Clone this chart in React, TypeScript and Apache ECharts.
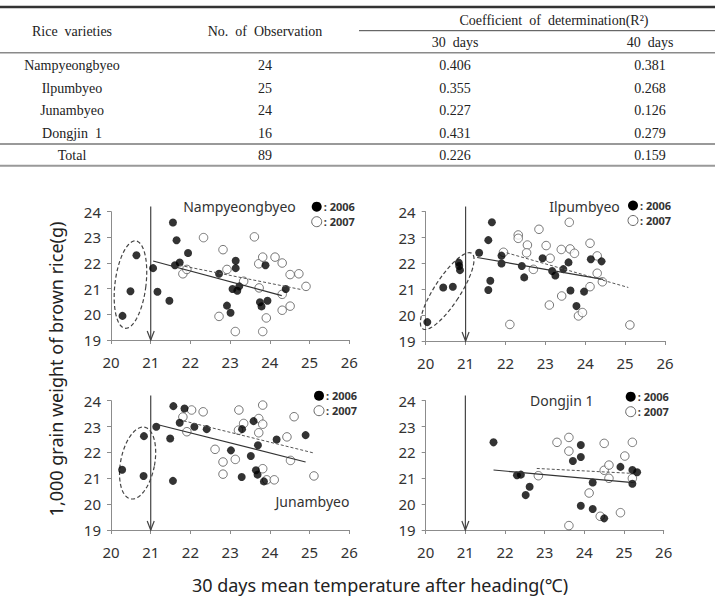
import React, { useEffect, useRef } from "react";
import * as echarts from "echarts";

// ---------- table ----------
const varieties = ["Nampyeongbyeo", "Ilpumbyeo", "Junambyeo", "Dongjin 1"];
const observations = ["24", "25", "24", "16"];
const r2Days30 = ["0.406", "0.355", "0.227", "0.431"];
const r2Days40 = ["0.381", "0.268", "0.126", "0.279"];
const totalRow = ["Total", "89", "0.226", "0.159"];

// ---------- axes ----------
const xTicks = [20, 21, 22, 23, 24, 25, 26];
const yTicks = [19, 20, 21, 22, 23, 24];
const thresholdTemp = 21;
const arrowTop = 24.2;
const years = ["2006", "2007"];

// ---------- Nampyeongbyeo ----------
const nampyeong2006: number[][] = [
  [20.29, 19.94], [20.49, 20.9], [20.64, 22.3], [21.06, 21.8], [21.17, 20.88], [21.47, 20.53],
  [21.56, 23.58], [21.65, 22.89], [21.61, 21.91], [21.73, 22.02], [21.94, 22.39], [22.72, 21.58],
  [22.92, 20.34], [23.01, 20.06], [23.14, 22.09], [23.14, 21.8], [23.06, 20.99], [23.18, 20.92],
  [23.23, 21.09], [23.75, 20.47], [23.79, 20.31], [23.94, 20.53], [23.89, 21.91], [24.4, 20.99],
];
const nampyeong2007: number[][] = [
  [21.81, 21.58], [21.91, 21.75], [22.33, 22.99], [22.72, 19.92], [22.82, 22.52], [22.92, 21.75],
  [23.13, 19.33], [23.34, 21.29], [23.61, 23.02], [23.72, 21.97], [23.73, 21.03], [23.82, 22.23],
  [23.82, 19.33], [23.91, 19.86], [24.13, 22.23], [24.31, 22.0], [24.31, 20.78], [24.31, 20.16],
  [24.51, 21.55], [24.51, 20.32], [24.73, 21.58], [24.91, 21.09],
];
const nampyeongFit2006 = [[21.06, 22.08], [24.3, 20.73]];
const nampyeongFit2007 = [[21.73, 21.91], [24.81, 20.96]];

// ---------- Ilpumbyeo ----------
const ilpum2006: number[][] = [
  [20.04, 19.73], [20.44, 21.07], [20.68, 21.1], [20.83, 22.03], [20.84, 21.9], [20.86, 21.74],
  [21.34, 22.41], [21.57, 20.97], [21.62, 21.33], [21.57, 22.9], [21.66, 23.59], [21.9, 22.3],
  [21.9, 22.0], [22.41, 21.9], [22.47, 21.46], [22.93, 22.2], [23.17, 21.71], [23.25, 21.53],
  [23.45, 21.78], [23.58, 22.04], [23.63, 20.95], [23.78, 20.35], [23.97, 20.91], [24.14, 22.16],
  [24.41, 22.08],
];
const ilpum2007: number[][] = [
  [22.11, 19.64], [21.95, 22.43], [22.32, 23.1], [22.32, 22.97], [22.55, 22.71], [22.53, 22.41],
  [22.7, 21.77], [22.84, 23.32], [23.02, 22.69], [23.12, 22.2], [23.1, 20.39], [23.4, 22.54],
  [23.41, 20.74], [23.6, 23.59], [23.62, 22.56], [23.73, 22.39], [23.83, 19.97], [23.93, 20.1],
  [24.12, 22.78], [24.12, 21.1], [24.3, 22.29], [24.3, 21.62], [24.43, 21.29], [25.12, 19.62],
];
const ilpumFit2006 = [[21.29, 22.23], [24.45, 21.38]];
const ilpumFit2007 = [[22.03, 22.41], [25.08, 21.07]];

// ---------- Junambyeo ----------
const junam2006: number[][] = [
  [20.28, 21.33], [20.83, 22.63], [20.82, 21.09], [21.14, 22.99], [21.49, 22.54], [21.57, 23.79],
  [21.56, 20.9], [21.73, 23.15], [21.85, 23.7], [22.1, 22.99], [22.41, 22.9], [23.02, 22.08],
  [23.3, 22.9], [23.29, 21.05], [23.52, 21.86], [23.59, 23.21], [23.65, 21.31], [23.69, 21.14],
  [23.7, 22.28], [23.85, 20.88], [24.17, 22.5], [24.9, 22.67],
];
const junam2007: number[][] = [
  [21.81, 23.37], [21.91, 22.8], [22.03, 23.64], [22.32, 23.57], [22.62, 22.12], [22.82, 21.63],
  [22.82, 21.16], [23.13, 21.73], [23.22, 23.64], [23.34, 23.12], [23.21, 22.86], [23.72, 23.31],
  [23.72, 22.76], [23.82, 23.83], [23.82, 23.09], [23.82, 21.37], [23.92, 20.94], [24.11, 20.94],
  [24.43, 22.6], [24.52, 21.69], [24.61, 23.38], [25.11, 21.09],
];
const junamFit2006 = [[21.16, 23.08], [24.9, 21.63]];
const junamFit2007 = [[21.83, 23.22], [25.1, 21.98]];

// ---------- Dongjin 1 ----------
const dongjin2006: number[][] = [
  [21.71, 22.39], [22.3, 21.12], [22.4, 21.14], [22.52, 20.35], [22.62, 20.67], [23.71, 21.67],
  [23.91, 22.29], [23.91, 21.82], [23.91, 19.94], [24.21, 20.84], [24.21, 19.81], [24.5, 19.45],
  [24.91, 21.44], [25.21, 21.32], [25.33, 21.23], [25.21, 20.79],
];
const dongjin2007: number[][] = [
  [22.84, 21.1], [23.31, 22.39], [23.61, 22.58], [23.61, 22.05], [23.61, 19.17], [24.12, 20.43],
  [24.4, 19.53], [24.5, 22.35], [24.5, 21.31], [24.62, 21.51], [24.62, 21.0], [24.91, 19.67],
  [25.02, 21.86], [25.21, 22.39], [25.21, 21.0],
];
const dongjinFit2006 = [[21.71, 21.32], [25.16, 20.84]];
const dongjinFit2007 = [[22.8, 21.38], [25.2, 21.19]];

// Low-temperature cluster circled in three panels: centre in data units
const lowTempCenters: (number[] | null)[] = [[20.49, 21.16], [20.54, 20.93], [20.67, 21.59], null];

const SANS = "'Noto Sans', 'Noto Sans CJK KR', sans-serif";
const SERIF = "'Liberation Serif', 'DejaVu Serif', serif";

type Panel = {
  name: string;
  d2006: number[][];
  d2007: number[][];
  fit2006: number[][];
  fit2007: number[][];
  grid: { left: number; top: number; width: number; height: number };
  title: [number, number];
  legend: [number, number];
  ellipse: { rx: number; ry: number; rot: number } | null;
};

const panels: Panel[] = [
  {
    name: varieties[0], d2006: nampyeong2006, d2007: nampyeong2007,
    fit2006: nampyeongFit2006, fit2007: nampyeongFit2007,
    grid: { left: 111, top: 211.7, width: 238.3, height: 128.3 },
    title: [239.5, 206.7], legend: [316.7, 206.7],
    ellipse: { rx: 15.5, ry: 44, rot: 7 },
  },
  {
    name: varieties[1], d2006: ilpum2006, d2007: ilpum2007,
    fit2006: ilpumFit2006, fit2007: ilpumFit2007,
    grid: { left: 425.7, top: 211.7, width: 239.3, height: 129.3 },
    title: [584.5, 206.7], legend: [633, 205.5],
    ellipse: { rx: 13, ry: 45, rot: 33 },
  },
  {
    name: varieties[2], d2006: junam2006, d2007: junam2007,
    fit2006: junamFit2006, fit2007: junamFit2007,
    grid: { left: 111, top: 400.7, width: 238.3, height: 129.3 },
    title: [312.5, 501], legend: [319, 395.7],
    ellipse: { rx: 17, ry: 36.5, rot: 11 },
  },
  {
    name: varieties[3], d2006: dongjin2006, d2007: dongjin2007,
    fit2006: dongjinFit2006, fit2007: dongjinFit2007,
    grid: { left: 425.7, top: 400.7, width: 238, height: 129.3 },
    title: [561.7, 400.7], legend: [630.7, 396.7],
    ellipse: null,
  },
];

function ellipsePoints(cx: number, cy: number, rx: number, ry: number, rotDeg: number) {
  const a = (rotDeg * Math.PI) / 180;
  const pts: number[][] = [];
  const n = 90;
  for (let i = 0; i <= n; i++) {
    const t = (i / n) * Math.PI * 2;
    const ex = rx * Math.cos(t);
    const ey = ry * Math.sin(t);
    pts.push([cx + ex * Math.cos(a) - ey * Math.sin(a), cy + ex * Math.sin(a) + ey * Math.cos(a)]);
  }
  return pts;
}

function placedText(
  text: string, x: number, y: number, font: string, fill: string,
  align = "center", extra: any = {}
) {
  return {
    type: "text",
    x,
    y,
    ...extra,
    style: {
      text,
      fill,
      font,
      align,
      verticalAlign: "middle",
      textAlign: align,
      textVerticalAlign: "middle",
    },
  };
}

function buildTableGraphics(): any[] {
  const g: any[] = [];
  const txt = (text: string, x: number, y: number) => placedText(text, x, y, `14px ${SERIF}`, "#222");
  const rule = (x1: number, x2: number, y: number, w: number, c: string) => ({
    type: "line",
    shape: { x1, y1: y, x2, y2: y },
    style: { stroke: c, lineWidth: w },
  });
  g.push(rule(0, 715, 7, 2.6, "#333"));
  g.push(rule(359, 715, 30.7, 1, "#444"));
  g.push(rule(0, 715, 52.7, 1.5, "#8a8a8a"));
  g.push(rule(0, 715, 144, 2, "#999"));
  g.push(rule(0, 715, 165.7, 2, "#999"));

  const colX = [72, 265, 455, 650];
  g.push(txt("Rice  varieties", colX[0], 31.7));
  g.push(txt("No.  of  Observation", colX[1], 31.7));
  g.push(txt("Coefficient  of  determination(R²)", 554, 20));
  g.push(txt("30  days", colX[2], 42.7));
  g.push(txt("40  days", colX[3], 42.7));

  const rowY = [65.3, 88.5, 110.7, 133];
  varieties.forEach((v, i) => {
    g.push(txt(v.replace(" ", "  "), colX[0], rowY[i]));
    g.push(txt(observations[i], colX[1], rowY[i]));
    g.push(txt(r2Days30[i], colX[2], rowY[i]));
    g.push(txt(r2Days40[i], colX[3], rowY[i]));
  });
  totalRow.forEach((t, j) => g.push(txt(t, colX[j], 155.3)));
  return g;
}

function buildPanelGraphics(): any[] {
  const g: any[] = [];
  panels.forEach((p) => {
    g.push(placedText(p.name, p.title[0], p.title[1], `14px ${SANS}`, "#333"));
    const [lx, ly] = p.legend;
    g.push({
      type: "circle",
      shape: { cx: lx, cy: ly, r: 5 },
      style: { fill: "#000" },
    });
    g.push({
      type: "circle",
      shape: { cx: lx, cy: ly + 15, r: 5 },
      style: { fill: "#fff", stroke: "#666", lineWidth: 1 },
    });
    years.forEach((yr, k) => {
      g.push(placedText(`: ${yr}`, lx + 7, ly + k * 15, `bold 11px ${SANS}`, "#333", "left"));
    });
  });
  g.push(
    placedText("1,000 grain weight of brown rice(g)", 56, 369, `18px ${SANS}`, "#222", "center", {
      rotation: Math.PI / 2,
    })
  );
  g.push(placedText("30 days mean temperature after heading(℃)", 380, 585, `18px ${SANS}`, "#222"));
  return g;
}

function buildOption() {
  const grid: any[] = [];
  const xAxis: any[] = [];
  const yAxis: any[] = [];
  const series: any[] = [];

  panels.forEach((p, i) => {
    grid.push({ ...p.grid, containLabel: false });
    xAxis.push({
      type: "value",
      gridIndex: i,
      min: xTicks[0],
      max: xTicks[xTicks.length - 1],
      interval: 1,
      axisLine: { show: true, onZero: false, lineStyle: { color: "#8c8c8c", width: 1 } },
      axisTick: { show: true, length: 4, lineStyle: { color: "#8c8c8c" } },
      splitLine: { show: false },
      axisLabel: { color: "#333", fontSize: 15, fontFamily: SANS, margin: 14 },
    });
    yAxis.push({
      type: "value",
      gridIndex: i,
      min: yTicks[0],
      max: yTicks[yTicks.length - 1],
      interval: 1,
      axisLine: { show: true, onZero: false, lineStyle: { color: "#8c8c8c", width: 1 } },
      axisTick: { show: true, length: 4, lineStyle: { color: "#8c8c8c" } },
      splitLine: { show: false },
      axisLabel: { color: "#333", fontSize: 15, fontFamily: SANS, margin: 10 },
    });

    const center = lowTempCenters[i];
    const ell = p.ellipse;
    // threshold arrow at 21 ℃ and the dashed ellipse around the cool-season points
    series.push({
      type: "custom",
      xAxisIndex: i,
      yAxisIndex: i,
      clip: false,
      z: 1,
      silent: true,
      data: [[thresholdTemp, yTicks[0]]],
      renderItem: (_params: any, api: any) => {
        const top = api.coord([thresholdTemp, arrowTop]);
        const bot = api.coord([thresholdTemp, yTicks[0]]);
        const children: any[] = [
          {
            type: "line",
            shape: { x1: top[0], y1: top[1], x2: bot[0], y2: bot[1] },
            style: { stroke: "#444", lineWidth: 1.2 },
          },
          {
            type: "polyline",
            shape: { points: [[bot[0] - 3.5, bot[1] - 9], [bot[0], bot[1]], [bot[0] + 3.5, bot[1] - 9]] },
            style: { stroke: "#444", lineWidth: 1.2, fill: null },
          },
        ];
        if (center && ell) {
          const c = api.coord(center);
          children.push({
            type: "polyline",
            shape: { points: ellipsePoints(c[0], c[1], ell.rx, ell.ry, ell.rot) },
            style: { stroke: "#444", lineWidth: 1.2, lineDash: [4, 2.5], fill: null },
          });
        }
        return { type: "group", children };
      },
    });

    series.push({
      type: "scatter",
      xAxisIndex: i,
      yAxisIndex: i,
      data: p.d2007,
      symbol: "circle",
      symbolSize: 8.5,
      itemStyle: { color: "#fff", borderColor: "#555", borderWidth: 1 },
      z: 2,
    });
    series.push({
      type: "scatter",
      xAxisIndex: i,
      yAxisIndex: i,
      data: p.d2006,
      symbol: "circle",
      symbolSize: 8,
      itemStyle: { color: "#000" },
      z: 3,
    });
    series.push({
      type: "line",
      xAxisIndex: i,
      yAxisIndex: i,
      data: p.fit2006,
      symbol: "none",
      lineStyle: { color: "#333", width: 1.2, type: "solid" },
      z: 4,
    });
    series.push({
      type: "line",
      xAxisIndex: i,
      yAxisIndex: i,
      data: p.fit2007,
      symbol: "none",
      lineStyle: { color: "#555", width: 1, type: [3, 2] },
      z: 4,
    });
  });

  return {
    animation: false,
    backgroundColor: "#fff",
    grid,
    xAxis,
    yAxis,
    series,
    graphic: [...buildTableGraphics(), ...buildPanelGraphics()],
  };
}

export default function App() {
  const ref = useRef<HTMLDivElement>(null);
  useEffect(() => {
    if (!ref.current) return;
    const chart = echarts.init(ref.current, undefined, { renderer: "svg" });
    chart.setOption(buildOption() as any);
    return () => chart.dispose();
  }, []);
  return (
    <div
      ref={ref}
      style={{ position: "absolute", left: 0, top: 0, width: 715, height: 596, background: "#fff" }}
    />
  );
}
